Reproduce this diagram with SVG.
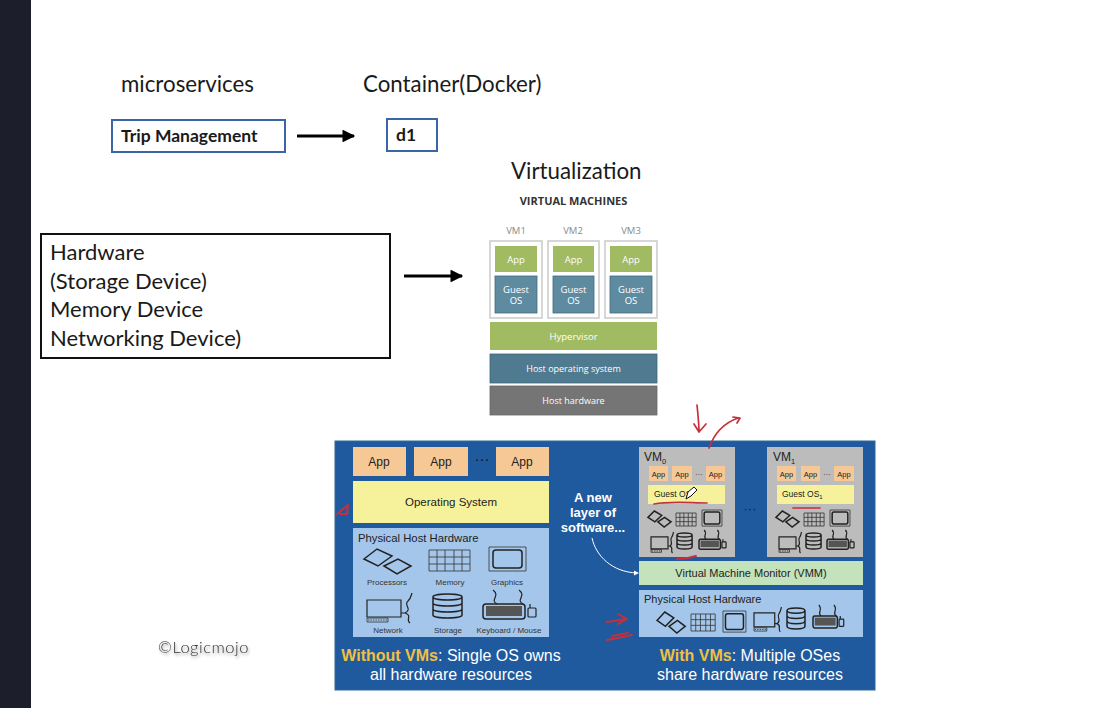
<svg xmlns="http://www.w3.org/2000/svg" width="1100" height="708" viewBox="0 0 1100 708">
<style>
.c{font-family:"Lato","Open Sans",sans-serif;fill:#1a1a1a}
.a{font-family:"Liberation Sans",Arial,sans-serif}
.vt{fill:#fff;text-anchor:middle;font-size:9.5px;font-family:"Open Sans",sans-serif}
.vs{fill:#fff;text-anchor:middle;font-size:9px;font-family:"Open Sans",sans-serif}
.st{fill:none;stroke:#222;stroke-width:1.2;vector-effect:non-scaling-stroke}
.st2{fill:none;stroke:#222;stroke-width:1.5;vector-effect:non-scaling-stroke}
.th{fill:none;stroke:#333;stroke-width:.8;vector-effect:non-scaling-stroke}
.red{fill:none;stroke:#c5303c;stroke-width:1.7;stroke-linecap:round;stroke-linejoin:round}
.vm{fill:#fff;stroke:#c9cbcb;stroke-width:1.5}
.app{fill:#a0bb62}
.gos{fill:#5f8ba0;stroke:#3e6b80;stroke-width:.8}
.o{fill:#f5c896}
.y{fill:#f6f29b}
.lb{fill:#a4c6ea}
.gy{fill:#bcbcbc}
.w{fill:#fff;font-size:16px;text-anchor:middle}
.g{fill:#f0c040;font-weight:bold}
</style>
<defs>
<marker id="ah" viewBox="0 0 10 10" refX="9" refY="5" markerWidth="4.4" markerHeight="4" orient="auto" markerUnits="strokeWidth"><path d="M0 0L10 5L0 10Z" fill="#000"/></marker>
<filter id="sh" x="-10%" y="-40%" width="120%" height="200%"><feDropShadow dx="1" dy="2" stdDeviation="1.5" flood-color="#000" flood-opacity=".45"/></filter>
<g id="proc"><path class="st2" d="M0 10L13 0L28 7L14 17ZM20 17L34 10L47 17L33 25Z"/></g>
<g id="mem"><path class="th" d="M0 0H41V21H0ZM0 7H41M0 14H41M8 0V21M16 0V21M25 0V21M33 0V21"/></g>
<g id="gfx"><rect class="th" width="37" height="24"/><rect class="st2" x="4" y="3" width="29" height="18" rx="3"/></g>
<g id="net"><path class="st" d="M0 7H34V24H0Z"/><path class="th" stroke-dasharray="1.500 1" d="M1 27H20"/><path class="th" d="M0 25H21V29H0Z"/><path class="st" d="M34 20H38C46 16 36 12 41 8C44 5 44 3 45 0M38 20C46 23 38 26 43 30"/></g>
<g id="sto"><path class="st2" d="M0 3C0 -1 29 -1 29 3V21C29 25 0 25 0 21ZM0 3C0 7 29 7 29 3M0 9C0 13 29 13 29 9M0 15C0 19 29 19 29 15"/></g>
<g id="kbd"><rect class="st2" x="0" y="14" width="42" height="15" rx="3"/><rect x="3" y="16" width="36" height="10" fill="#555"/><path class="st" d="M14 14C6 10 18 6 10 0M40 14C32 10 44 6 36 0M47 18V14"/><rect class="st" x="45" y="18" width="8" height="9" rx="1"/></g>
</defs>

<rect width="1100" height="708" fill="#fff"/>
<rect width="31" height="708" fill="#1c1e2b"/>

<g id="label-microservices"><text class="c" x="121" y="92" font-size="22.300">microservices</text></g>
<g id="label-container"><text class="c" x="363" y="92" font-size="22.300">Container(Docker)</text></g>
<g id="node-trip"><rect x="112" y="120" width="173" height="32" fill="#fff" stroke="#3a66a8" stroke-width="2"/><text class="c" x="121" y="142" font-size="17.500" font-weight="700">Trip Management</text></g>
<g id="node-d1"><rect x="387" y="119" width="50" height="32" fill="#fff" stroke="#3a66a8" stroke-width="2"/><text class="c" x="396" y="141" font-size="17.500" font-weight="700">d1</text></g>
<g id="label-virtualization"><text class="c" x="511" y="179" font-size="22.300">Virtualization</text></g>
<g id="node-hardware"><rect x="41" y="234" width="349" height="124" fill="#fff" stroke="#111" stroke-width="2"/>
<text class="c" font-size="22" x="50" y="260">Hardware</text><text class="c" font-size="22" x="50" y="289">(Storage Device)</text><text class="c" font-size="22" x="50" y="317">Memory Device</text><text class="c" font-size="22" x="50" y="346">Networking Device)</text></g>

<g id="connectors">
<path d="M297 136H354" stroke="#000" stroke-width="3.200" marker-end="url(#ah)" fill="none"/>
<path d="M404 276H462" stroke="#000" stroke-width="3.200" marker-end="url(#ah)" fill="none"/>
</g>

<g id="virtual-machines">
<text x="573.500" y="205" text-anchor="middle" font-size="11" font-weight="700" fill="#333" font-family="Open Sans,sans-serif">VIRTUAL MACHINES</text>
<g font-size="9.500" fill="#8a8a8a" text-anchor="middle" font-family="Open Sans,sans-serif"><text x="516" y="234">VM1</text><text x="573" y="234">VM2</text><text x="631" y="234">VM3</text></g>
<g id="vm1"><rect class="vm" x="490" y="241" width="52" height="77"/><rect class="app" x="495" y="246" width="42" height="26"/><rect class="gos" x="495" y="276" width="42" height="37"/><text class="vt" x="516" y="263">App</text><text class="vt" x="516" y="293">Guest</text><text class="vt" x="516" y="304">OS</text></g>
<g id="vm2"><rect class="vm" x="548" y="241" width="51" height="77"/><rect class="app" x="553" y="246" width="41" height="26"/><rect class="gos" x="553" y="276" width="41" height="37"/><text class="vt" x="573.500" y="263">App</text><text class="vt" x="573.500" y="293">Guest</text><text class="vt" x="573.500" y="304">OS</text></g>
<g id="vm3"><rect class="vm" x="605" y="241" width="52" height="77"/><rect class="app" x="610" y="246" width="42" height="26"/><rect class="gos" x="610" y="276" width="42" height="37"/><text class="vt" x="631" y="263">App</text><text class="vt" x="631" y="293">Guest</text><text class="vt" x="631" y="304">OS</text></g>
<g id="hypervisor"><rect class="app" x="490" y="322" width="167" height="28"/><text class="vt" x="573.500" y="340">Hypervisor</text></g>
<g id="host-os"><rect x="490" y="354" width="167" height="29" fill="#4f7a90" stroke="#3e6678" stroke-width=".8"/><text class="vs" x="573.500" y="372">Host operating system</text></g>
<g id="host-hw"><rect x="490" y="386" width="167" height="29" fill="#757575" stroke="#666" stroke-width=".8"/><text class="vs" x="573.500" y="404">Host hardware</text></g>
</g>

<g id="vm-panel" class="a">
<rect x="335" y="441" width="540" height="249" fill="#1f5a9e" stroke="#2f6a94"/>
<g id="left-stack" font-size="12" fill="#222" text-anchor="middle">
<rect class="o" x="353" y="447" width="53" height="29"/><text x="379" y="466">App</text>
<rect class="o" x="414" y="447" width="54" height="29"/><text x="441" y="466">App</text>
<text x="482" y="464" font-size="15" fill="#111">···</text>
<rect class="o" x="496" y="447" width="53" height="29"/><text x="522" y="466">App</text>
<rect class="y" x="353" y="481" width="196" height="42"/><text x="451" y="506" font-size="11.500">Operating System</text>
<rect class="lb" x="353" y="528" width="196" height="109"/><text x="358" y="542" font-size="11.300" text-anchor="start">Physical Host Hardware</text>
<use href="#proc" x="364" y="549"/>
<use href="#mem" x="429" y="550"/>
<use href="#gfx" x="489" y="547"/>
<use href="#net" x="367" y="593"/>
<use href="#sto" x="433" y="594"/>
<use href="#kbd" x="483" y="590"/>
<g font-size="8" fill="#333"><text x="387" y="585">Processors</text><text x="450" y="585">Memory</text><text x="507" y="585">Graphics</text><text x="388" y="633">Network</text><text x="448" y="633">Storage</text><text x="509" y="633">Keyboard / Mouse</text></g>
</g>
<text class="w" x="451" y="661"><tspan class="g">Without VMs</tspan>: Single OS owns</text>
<text class="w" x="451" y="680">all hardware resources</text>
<g fill="#fff" font-size="13" font-weight="700" text-anchor="middle"><text x="593" y="502">A new</text><text x="593" y="517">layer of</text><text x="593" y="532">software...</text></g>
<path d="M592 538C596 556 612 572 637 573" fill="none" stroke="#fff" stroke-width="1"/><path d="M639 573L634 570.500V575.500Z" fill="#fff"/>

<g id="vm0" text-anchor="middle" fill="#222">
<rect class="gy" x="639" y="447" width="96" height="110"/>
<text x="644" y="461" font-size="12" text-anchor="start">VM<tspan font-size="7.500" dy="3">0</tspan></text>
<rect class="o" x="649" y="466" width="19" height="15"/><rect class="o" x="672" y="466" width="20" height="15"/><rect class="o" x="706" y="466" width="19" height="15"/>
<g font-size="7.500"><text x="658.500" y="477">App</text><text x="682" y="477">App</text><text x="699" y="477">···</text><text x="715.500" y="477">App</text></g>
<rect class="y" x="648" y="485" width="77" height="19"/><text x="654" y="497" font-size="8.500" text-anchor="start">Guest OS</text>
<use href="#proc" transform="translate(648 511) scale(.49 .64)"/>
<use href="#mem" transform="translate(676 513) scale(.49 .62)"/>
<use href="#gfx" transform="translate(702 510) scale(.54 .67)"/>
<use href="#net" transform="translate(651 532) scale(.5 .7)"/>
<use href="#sto" transform="translate(677 533) scale(.52 .67)"/>
<use href="#kbd" transform="translate(699 530) scale(.51 .66)"/>
</g>
<text x="750" y="513" font-size="13" fill="#123" text-anchor="middle">···</text>
<g id="vm1-r" text-anchor="middle" fill="#222">
<rect class="gy" x="767" y="447" width="96" height="110"/>
<text x="773" y="461" font-size="12" text-anchor="start">VM<tspan font-size="7.500" dy="3">1</tspan></text>
<rect class="o" x="777" y="466" width="19" height="15"/><rect class="o" x="801" y="466" width="19" height="15"/><rect class="o" x="834" y="466" width="20" height="15"/>
<g font-size="7.500"><text x="786.500" y="477">App</text><text x="810.500" y="477">App</text><text x="827" y="477">···</text><text x="844" y="477">App</text></g>
<rect class="y" x="777" y="485" width="77" height="19"/><text x="782" y="497" font-size="8.500" text-anchor="start">Guest OS<tspan font-size="6" dy="2">1</tspan></text>
<use href="#proc" transform="translate(776 511) scale(.49 .64)"/>
<use href="#mem" transform="translate(804 513) scale(.49 .62)"/>
<use href="#gfx" transform="translate(830 510) scale(.54 .67)"/>
<use href="#net" transform="translate(779 532) scale(.5 .7)"/>
<use href="#sto" transform="translate(806 533) scale(.52 .67)"/>
<use href="#kbd" transform="translate(827 530) scale(.51 .66)"/>
</g>
<g id="vmm"><rect x="639" y="561" width="224" height="24" fill="#c4e2bb"/><text x="751" y="577" font-size="11" fill="#222" text-anchor="middle">Virtual Machine Monitor (VMM)</text></g>
<g id="hw-r"><rect class="lb" x="639" y="590" width="224" height="47"/><text x="644" y="603" font-size="11" fill="#222">Physical Host Hardware</text>
<use href="#proc" transform="translate(657 612) scale(.6 .84)"/>
<use href="#mem" transform="translate(691 614) scale(.59 .81)"/>
<use href="#gfx" transform="translate(723 611) scale(.62 .88)"/>
<use href="#net" transform="translate(754 607) scale(.61 .83)"/>
<use href="#sto" transform="translate(787 608) scale(.62 .87)"/>
<use href="#kbd" transform="translate(813 605) scale(.58 .79)"/>
</g>
<text class="w" x="750" y="661"><tspan class="g">With VMs</tspan>: Multiple OSes</text>
<text class="w" x="750" y="680">share hardware resources</text>
</g>

<g id="annotations">
<path class="red" d="M697 405C698 415 699 424 699 432M694 424L699 432L706 424"/>
<path class="red" d="M709 448C714 434 724 423 738 418M733 417L740 418L737 423"/>
<path class="red" d="M654 504C670 501 690 503 707 503"/>
<path class="red" d="M793 508H820"/>
<path class="red" d="M677 559C685 559 690 558 696 556" style="stroke-width:2"/>
<path class="red" d="M607 622L626 619M618 614L627 619L618 624" style="stroke-width:2"/>
<path class="red" d="M607 640C615 639 622 637 632 635M612 636L628 633" style="stroke-width:2"/>
<path class="red" d="M337 514L348 505L347 514H340" style="stroke-width:2"/>
<path d="M686 499L688 492L694 487L697 490L691 496Z" fill="#fff" stroke="#111" stroke-width="1"/>
</g>

<g id="copyright"><text x="158" y="653" font-size="16.500" letter-spacing=".5" fill="#333" font-weight="300" filter="url(#sh)" font-family="Lato,sans-serif">©Logicmojo</text></g>
</svg>
